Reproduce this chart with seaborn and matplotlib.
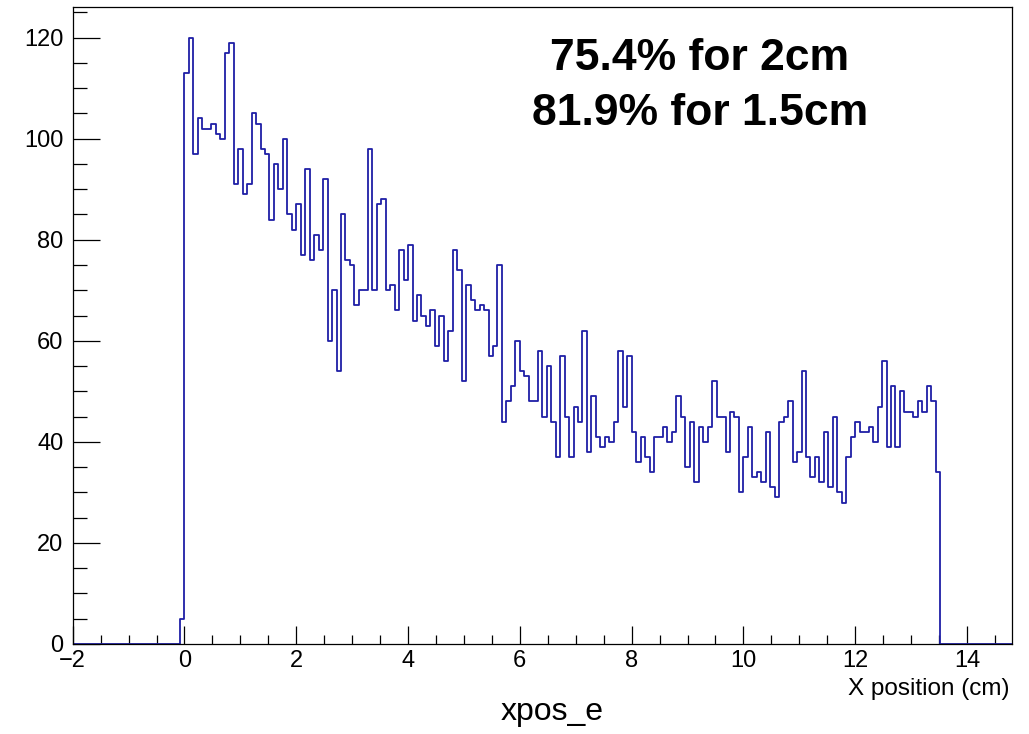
import numpy as np
import pandas as pd
import matplotlib
matplotlib.use("Agg")
import matplotlib.pyplot as plt
import seaborn as sns
from matplotlib.ticker import MultipleLocator

# Histogram binning: 210 bins of 0.08 cm between -2 and 14.8 cm
x_low, x_high, n_bins = -2.0, 14.8, 210
first_filled_bin = 24          # bin covering -0.08 .. 0 cm

# Entries per bin, starting at the -0.08 .. 0 cm bin
counts_filled = [
    5,
    113, 120, 97, 104, 102, 102, 103, 101, 100, 117, 119, 91, 98, 89, 91, 105,
    103, 98, 97, 84, 95, 90, 100, 85, 82, 87, 77, 94, 76, 81, 78, 92,
    60, 70, 54, 85, 76, 75, 67, 70, 70, 98, 70, 87, 88, 70, 71, 66, 78, 72,
    79, 64, 69, 65, 63, 66, 59, 65, 56, 62, 78, 74, 52, 71, 68, 66, 67, 66,
    57, 59,
    75, 44, 48, 51, 60, 54, 53, 48, 48, 58, 45, 55, 44, 37, 57, 45, 37, 47,
    44, 62, 38, 49, 41, 39, 41, 40, 44, 58, 47, 57, 42, 36, 41, 37, 34, 41,
    41, 43, 40, 42,
    49, 45, 35, 44, 32, 43, 40, 43, 52, 45, 45, 38, 46, 45, 30, 37, 43, 33,
    34, 32, 42, 31, 29, 44, 45, 48, 36, 38, 54, 37, 33, 37, 32, 42, 31, 45,
    30, 28, 37, 41, 44,
    42, 42, 43, 40, 47, 56, 39, 51, 39, 50, 46, 46, 45, 48, 46, 51, 48, 34,
]

annotation_lines = ["75.4% for 2cm", "81.9% for 1.5cm"]
hist_title = "xpos_e"
x_title = "X position (cm)"

edges = np.linspace(x_low, x_high, n_bins + 1)
centers = 0.5 * (edges[:-1] + edges[1:])
counts = np.zeros(n_bins)
counts[first_filled_bin:first_filled_bin + len(counts_filled)] = counts_filled
hist_df = pd.DataFrame({"xpos": centers, "entries": counts})

sns.set_style("white")
plt.rcParams["font.family"] = ["Liberation Sans", "DejaVu Sans"]
plt.rcParams["text.color"] = "black"
plt.rcParams["xtick.color"] = "black"
plt.rcParams["ytick.color"] = "black"
plt.rcParams["xtick.labelcolor"] = "black"
plt.rcParams["ytick.labelcolor"] = "black"

W, H = 1029, 734
fig = plt.figure(figsize=(W / 100, H / 100), dpi=100)
left, right, top, bottom = 72.7, 1011.7, 7.3, 644.0
ax = fig.add_axes([left / W, 1 - bottom / H, (right - left) / W, (bottom - top) / H])

sns.histplot(data=hist_df, x="xpos", weights="entries", bins=edges.tolist(),
             element="step", fill=False, color="#1f1fa6", linewidth=1.3, ax=ax)

ax.set_xlim(x_low, x_high)
ax.set_ylim(0, 126)
ax.set_xlabel("")
ax.set_ylabel("")

for s in ax.spines.values():
    s.set_visible(True)
    s.set_color("black")
    s.set_linewidth(0.9)

ax.xaxis.set_major_locator(MultipleLocator(2))
ax.xaxis.set_minor_locator(MultipleLocator(0.5))
ax.yaxis.set_major_locator(MultipleLocator(20))
ax.yaxis.set_minor_locator(MultipleLocator(5))

ax.tick_params(axis="x", which="major", direction="in", length=13, width=0.9,
               labelsize=17, pad=4, top=False, bottom=True,
               color="black", labelcolor="black")
ax.tick_params(axis="x", which="minor", direction="in", length=6.2, width=0.9,
               top=False, bottom=True, color="black")
ax.tick_params(axis="y", which="major", direction="in", length=19.5, width=0.9,
               labelsize=17, pad=6.8, right=False, left=True,
               color="black", labelcolor="black")
ax.tick_params(axis="y", which="minor", direction="in", length=10, width=0.9,
               right=False, left=True, color="black")

fig.text(1010 / W, 1 - 695 / H, x_title, ha="right", va="baseline",
         fontsize=17.5, color="black")
fig.text(552 / W, 1 - 720 / H, hist_title, ha="center", va="baseline",
         fontsize=23, color="black")
fig.text(700 / W, 1 - 70 / H, annotation_lines[0], ha="center", va="baseline",
         fontsize=32, fontweight="bold", color="black")
fig.text(700 / W, 1 - 125 / H, annotation_lines[1], ha="center", va="baseline",
         fontsize=32, fontweight="bold", color="black")

fig.savefig("out.png", dpi=100, facecolor="white")
